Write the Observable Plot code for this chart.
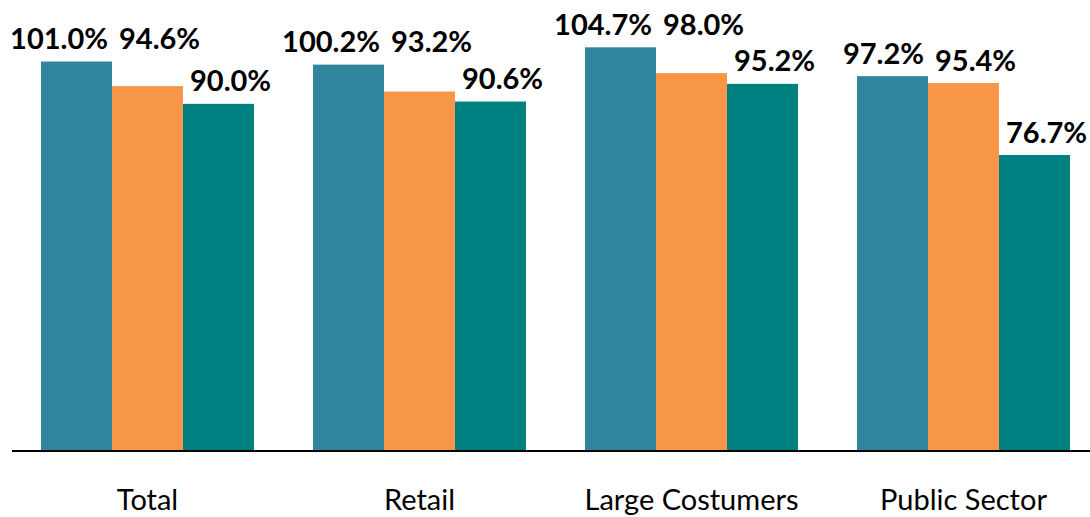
<!DOCTYPE html>
<html>
<head>
<meta charset="utf-8">
<script src="https://cdn.jsdelivr.net/npm/d3@7"></script>
<script src="https://cdn.jsdelivr.net/npm/@observablehq/plot@0.6"></script>
<style>
  html, body { margin: 0; padding: 0; background: #fff; }
  #chart svg { display: block; }
</style>
</head>
<body>
<div id="chart"></div>
<script>
const categories = ["Total", "Retail", "Large Costumers", "Public Sector"];
const seriesNames = ["Series 1", "Series 2", "Series 3"];
const series1 = [101.0, 100.2, 104.7, 97.2];
const series2 = [94.6, 93.2, 98.0, 95.4];
const series3 = [90.0, 90.6, 95.2, 76.7];
const colors = ["#31859C", "#F79646", "#008080"];

const seriesValues = [series1, series2, series3];
const data = [];
categories.forEach((c, i) => {
  seriesValues.forEach((vals, s) => {
    // label height: the middle label is lifted to the first label's level
    // when it would otherwise crowd the neighbouring labels (as in the original)
    let labelY = vals[i];
    if (s === 1 && series1[i] - vals[i] > 2) labelY = series1[i];
    data.push({category: c, series: seriesNames[s], value: vals[i], labelY});
  });
});

const labelAnchor = ["end", "start", "start"];
const labelDx = [31, -29, -29];
const font = "Lato, 'Open Sans', sans-serif";

const plot = Plot.plot({
  width: 1090,
  height: 517,
  marginLeft: 39,
  marginRight: 20,
  marginTop: 0,
  marginBottom: 67,
  style: {fontFamily: font, background: "#fff"},
  fx: {domain: categories, padding: 0.215, paddingOuter: 0, label: null},
  x: {domain: seriesNames, padding: 0, axis: null},
  y: {domain: [0, 117], axis: null},
  color: {domain: seriesNames, range: colors},
  marks: [
    Plot.axisFx({anchor: "bottom", tickSize: 0, tickPadding: 39, fontSize: 29, fill: "#000", label: null}),
    Plot.barY(data, {fx: "category", x: "series", y: "value", fill: "series"}),
    ...seriesNames.map((name, s) =>
      Plot.text(data.filter(d => d.series === name), {
        fx: "category", x: "series", y: "labelY",
        text: d => d.value.toFixed(1) + "%",
        lineAnchor: "bottom", textAnchor: labelAnchor[s],
        dy: -13, dx: labelDx[s],
        fontSize: 29, fontWeight: "bold", fill: "#000"
      })
    )
  ]
});

// baseline axis line spanning the chart width
const y0 = plot.scale("y").apply(0);
d3.select(plot).append("line")
  .attr("x1", 12).attr("x2", 1090)
  .attr("y1", y0 + 1).attr("y2", y0 + 1)
  .attr("stroke", "#000").attr("stroke-width", 2);

document.getElementById("chart").appendChild(plot);
</script>
</body>
</html>
